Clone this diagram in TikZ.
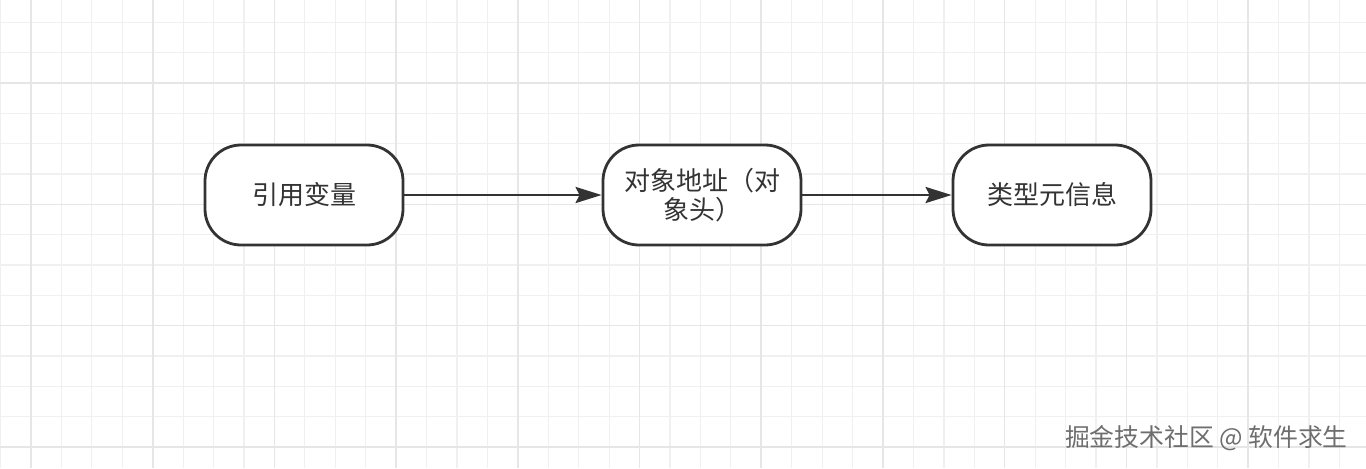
\documentclass[tikz,border=0pt]{standalone}
\usepackage{fontspec}
\setmainfont{Noto Sans CJK SC}
\usetikzlibrary{arrows.meta}
\definecolor{inkgray}{HTML}{333333}
\definecolor{markgray}{HTML}{6E6E6E}
\definecolor{gridminor}{HTML}{F0F0F0}
\definecolor{gridmajor}{HTML}{E6E6E6}
\tikzset{
  flowbox/.style={draw=inkgray, line width=1.4pt, rounded corners=18pt, fill=white,
    minimum width=99pt, minimum height=50pt, inner sep=0pt, align=center,
    text=inkgray, font=\fontsize{13}{14.5}\selectfont},
  flowarrow/.style={draw=inkgray, line width=1.4pt, -{Stealth[length=13pt,width=8pt,inset=2pt]}},
  watermark/.style={text=markgray, inner sep=0pt, font=\fontsize{12.4}{14}\selectfont},
}
\begin{document}
\begin{tikzpicture}[x=0.5pt,y=-0.5pt]
\useasboundingbox (0,0) rectangle (1366,468);
\fill[white] (0,0) rectangle (1366,468);
% grid
\begin{scope}
\clip (0,0) rectangle (1366,468);
\foreach \i in {-1,...,43}
  \draw[gridminor, line width=0.6pt] ({31+30.43*\i},0) -- ({31+30.43*\i},468);
\foreach \j in {-2,...,12}
  \draw[gridminor, line width=0.6pt] (0,{83+30.33*\j}) -- (1366,{83+30.33*\j});
\foreach \i in {0,...,11}
  \draw[gridmajor, line width=0.8pt] ({31+121.7*\i},0) -- ({31+121.7*\i},468);
\foreach \j in {0,...,3}
  \draw[gridmajor, line width=0.8pt] (0,{83+121.3*\j}) -- (1366,{83+121.3*\j});
\end{scope}
% nodes
\node[flowbox] (ref) at (304,195) {引用变量};
\node[flowbox] (addr) at (702,195) {对象地址（对\\象头）};
\node[flowbox] (meta) at (1052,195) {类型元信息};
\draw[flowarrow] (ref) -- (addr);
\draw[flowarrow] (addr) -- (meta);
\node[watermark, anchor=east] (mark) at (1348,438) {掘金技术社区 @ 软件求生};
\end{tikzpicture}
\end{document}
